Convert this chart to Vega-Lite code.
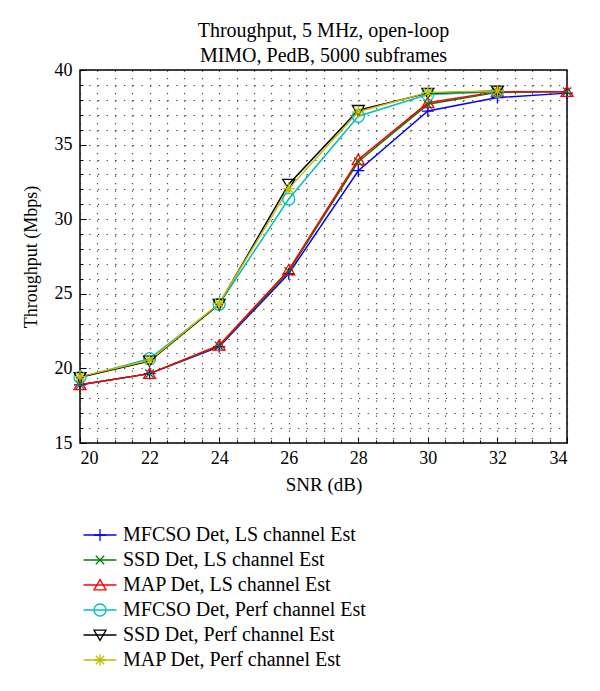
{
  "$schema": "https://vega.github.io/schema/vega-lite/v6.json",
  "autosize": "none",
  "width": 487,
  "height": 373,
  "padding": {"left": 80, "top": 70, "right": 33, "bottom": 248},
  "background": "white",
  "config": {
    "font": "Liberation Serif",
    "view": {"stroke": "black", "strokeWidth": 1.5}
  },
  "title": {
    "text": ["Throughput, 5 MHz, open-loop", "MIMO, PedB, 5000 subframes"],
    "font": "Liberation Serif",
    "fontSize": 20,
    "fontWeight": "normal",
    "lineHeight": 25,
    "offset": -5,
    "anchor": "middle",
    "color": "black"
  },
  "data": {
    "values": [
      {"series": "MFCSO Det, LS channel Est", "snr": 20, "thr": 18.9},
      {"series": "MFCSO Det, LS channel Est", "snr": 22, "thr": 19.65},
      {"series": "MFCSO Det, LS channel Est", "snr": 24, "thr": 21.45},
      {"series": "MFCSO Det, LS channel Est", "snr": 26, "thr": 26.35},
      {"series": "MFCSO Det, LS channel Est", "snr": 28, "thr": 33.25},
      {"series": "MFCSO Det, LS channel Est", "snr": 30, "thr": 37.25},
      {"series": "MFCSO Det, LS channel Est", "snr": 32, "thr": 38.15},
      {"series": "MFCSO Det, LS channel Est", "snr": 34, "thr": 38.45},
      {"series": "SSD Det, LS channel Est", "snr": 20, "thr": 18.9},
      {"series": "SSD Det, LS channel Est", "snr": 22, "thr": 19.65},
      {"series": "SSD Det, LS channel Est", "snr": 24, "thr": 21.5},
      {"series": "SSD Det, LS channel Est", "snr": 26, "thr": 26.5},
      {"series": "SSD Det, LS channel Est", "snr": 28, "thr": 33.85},
      {"series": "SSD Det, LS channel Est", "snr": 30, "thr": 37.7},
      {"series": "SSD Det, LS channel Est", "snr": 32, "thr": 38.5},
      {"series": "SSD Det, LS channel Est", "snr": 34, "thr": 38.55},
      {"series": "MAP Det, LS channel Est", "snr": 20, "thr": 18.9},
      {"series": "MAP Det, LS channel Est", "snr": 22, "thr": 19.65},
      {"series": "MAP Det, LS channel Est", "snr": 24, "thr": 21.55},
      {"series": "MAP Det, LS channel Est", "snr": 26, "thr": 26.6},
      {"series": "MAP Det, LS channel Est", "snr": 28, "thr": 34.0},
      {"series": "MAP Det, LS channel Est", "snr": 30, "thr": 37.8},
      {"series": "MAP Det, LS channel Est", "snr": 32, "thr": 38.55},
      {"series": "MAP Det, LS channel Est", "snr": 34, "thr": 38.55},
      {"series": "MFCSO Det, Perf channel Est", "snr": 20, "thr": 19.4},
      {"series": "MFCSO Det, Perf channel Est", "snr": 22, "thr": 20.65},
      {"series": "MFCSO Det, Perf channel Est", "snr": 24, "thr": 24.3},
      {"series": "MFCSO Det, Perf channel Est", "snr": 26, "thr": 31.35},
      {"series": "MFCSO Det, Perf channel Est", "snr": 28, "thr": 36.9},
      {"series": "MFCSO Det, Perf channel Est", "snr": 30, "thr": 38.35},
      {"series": "MFCSO Det, Perf channel Est", "snr": 32, "thr": 38.55},
      {"series": "SSD Det, Perf channel Est", "snr": 20, "thr": 19.4},
      {"series": "SSD Det, Perf channel Est", "snr": 22, "thr": 20.5},
      {"series": "SSD Det, Perf channel Est", "snr": 24, "thr": 24.3},
      {"series": "SSD Det, Perf channel Est", "snr": 26, "thr": 32.35},
      {"series": "SSD Det, Perf channel Est", "snr": 28, "thr": 37.3},
      {"series": "SSD Det, Perf channel Est", "snr": 30, "thr": 38.45},
      {"series": "SSD Det, Perf channel Est", "snr": 32, "thr": 38.6},
      {"series": "MAP Det, Perf channel Est", "snr": 20, "thr": 19.45},
      {"series": "MAP Det, Perf channel Est", "snr": 22, "thr": 20.55},
      {"series": "MAP Det, Perf channel Est", "snr": 24, "thr": 24.35},
      {"series": "MAP Det, Perf channel Est", "snr": 26, "thr": 32.05},
      {"series": "MAP Det, Perf channel Est", "snr": 28, "thr": 37.2},
      {"series": "MAP Det, Perf channel Est", "snr": 30, "thr": 38.5},
      {"series": "MAP Det, Perf channel Est", "snr": 32, "thr": 38.6}
    ]
  },
  "encoding": {
    "x": {
      "field": "snr",
      "type": "quantitative",
      "scale": {"domain": [20, 34], "nice": false, "zero": false},
      "axis": {
        "title": "SNR (dB)",
        "values": [20, 20.5, 21, 21.5, 22, 22.5, 23, 23.5, 24, 24.5, 25, 25.5, 26, 26.5, 27, 27.5, 28, 28.5, 29, 29.5, 30, 30.5, 31, 31.5, 32, 32.5, 33, 33.5, 34],
        "labelExpr": "datum.value % 2 === 0 ? format(datum.value, 'd') : ''",
        "labelOverlap": false,
        "labelFont": "Liberation Serif",
        "labelFontSize": 18,
        "labelColor": "black",
        "labelPadding": 12,
        "tickSize": {"condition": {"test": "datum.value % 2 === 0", "value": -6}, "value": -3},
        "tickColor": "black",
        "domain": false,
        "grid": true,
        "gridDash": [1.3, 6.2],
        "gridColor": "#222",
        "gridWidth": 1.2,
        "gridOpacity": 0.85,
        "titleFont": "Liberation Serif",
        "titleFontSize": 19,
        "titleFontWeight": "normal",
        "titleColor": "black",
        "titlePadding": 5
      }
    },
    "y": {
      "field": "thr",
      "type": "quantitative",
      "scale": {"domain": [15, 40], "nice": false, "zero": false},
      "axis": {
        "title": "Throughput (Mbps)",
        "values": [15, 16, 17, 18, 19, 20, 21, 22, 23, 24, 25, 26, 27, 28, 29, 30, 31, 32, 33, 34, 35, 36, 37, 38, 39, 40],
        "labelExpr": "datum.value % 5 === 0 ? datum.label : ''",
        "labelOverlap": false,
        "labelFont": "Liberation Serif",
        "labelFontSize": 18,
        "labelColor": "black",
        "labelPadding": 14,
        "tickSize": {"condition": {"test": "datum.value % 5 === 0", "value": -6}, "value": -3},
        "tickColor": "black",
        "domain": false,
        "grid": true,
        "gridDash": [1.3, 7.4],
        "gridColor": "#222",
        "gridWidth": 1.2,
        "gridOpacity": 0.85,
        "titleFont": "Liberation Serif",
        "titleFontSize": 18,
        "titleFontWeight": "normal",
        "titleColor": "black",
        "titlePadding": 14
      }
    }
  },
  "layer": [
    {
      "mark": {"type": "line", "strokeWidth": 1.5, "clip": false},
      "encoding": {
        "order": {"field": "snr", "type": "quantitative"},
        "stroke": {
          "field": "series",
          "type": "nominal",
          "sort": null,
          "scale": {
            "domain": {"unionWith": ["MFCSO Det, LS channel Est", "SSD Det, LS channel Est", "MAP Det, LS channel Est", "MFCSO Det, Perf channel Est", "SSD Det, Perf channel Est", "MAP Det, Perf channel Est"]},
            "range": ["#0000ff", "#008000", "#ff0000", "#00bfbf", "#000000", "#bfbf00"]
          },
          "legend": {
            "title": null,
            "orient": "none",
            "legendX": 10,
            "legendY": 455,
            "direction": "vertical",
            "padding": 0,
            "symbolType": "M-2.75,0H2.75",
            "symbolSize": 144,
            "symbolStrokeWidth": 1.5,
            "labelFont": "Liberation Serif",
            "labelFontSize": 20,
            "labelColor": "transparent",
            "labelOpacity": 0,
            "labelOffset": 13,
            "rowPadding": 5,
            "labelLimit": 400
          }
        }
      }
    },
    {
      "mark": {"type": "point", "filled": false, "strokeWidth": 1.3, "size": 144, "opacity": 1, "clip": false},
      "encoding": {
        "color": {
          "field": "series",
          "type": "nominal",
          "sort": null,
          "scale": {
            "domain": ["MFCSO Det, LS channel Est", "SSD Det, LS channel Est", "MAP Det, LS channel Est", "MFCSO Det, Perf channel Est", "SSD Det, Perf channel Est", "MAP Det, Perf channel Est"],
            "range": ["#0000ff", "#008000", "#ff0000", "#00bfbf", "#000000", "#bfbf00"]
          },
          "legend": {
            "title": null,
            "orient": "none",
            "legendX": 10,
            "legendY": 455,
            "direction": "vertical",
            "padding": 0,
            "symbolSize": 144,
            "symbolStrokeWidth": 1.3,
            "labelFont": "Liberation Serif",
            "labelFontSize": 20,
            "labelColor": "black",
            "labelOffset": 13,
            "rowPadding": 5,
            "labelLimit": 400
          }
        },
        "shape": {
          "field": "series",
          "type": "nominal",
          "sort": null,
          "scale": {
            "domain": ["MFCSO Det, LS channel Est", "SSD Det, LS channel Est", "MAP Det, LS channel Est", "MFCSO Det, Perf channel Est", "SSD Det, Perf channel Est", "MAP Det, Perf channel Est"],
            "range": [
              "M-1,0H1M0,-1V1",
              "M-0.7,-0.7L0.7,0.7M-0.7,0.7L0.7,-0.7",
              "M0,-0.9L-1,0.8L1,0.8Z",
              "circle",
              "M0,0.9L-1,-0.8L1,-0.8Z",
              "M-1,0H1M0,-1V1M-0.7,-0.7L0.7,0.7M-0.7,0.7L0.7,-0.7"
            ]
          },
          "legend": null
        }
      }
    }
  ]
}
